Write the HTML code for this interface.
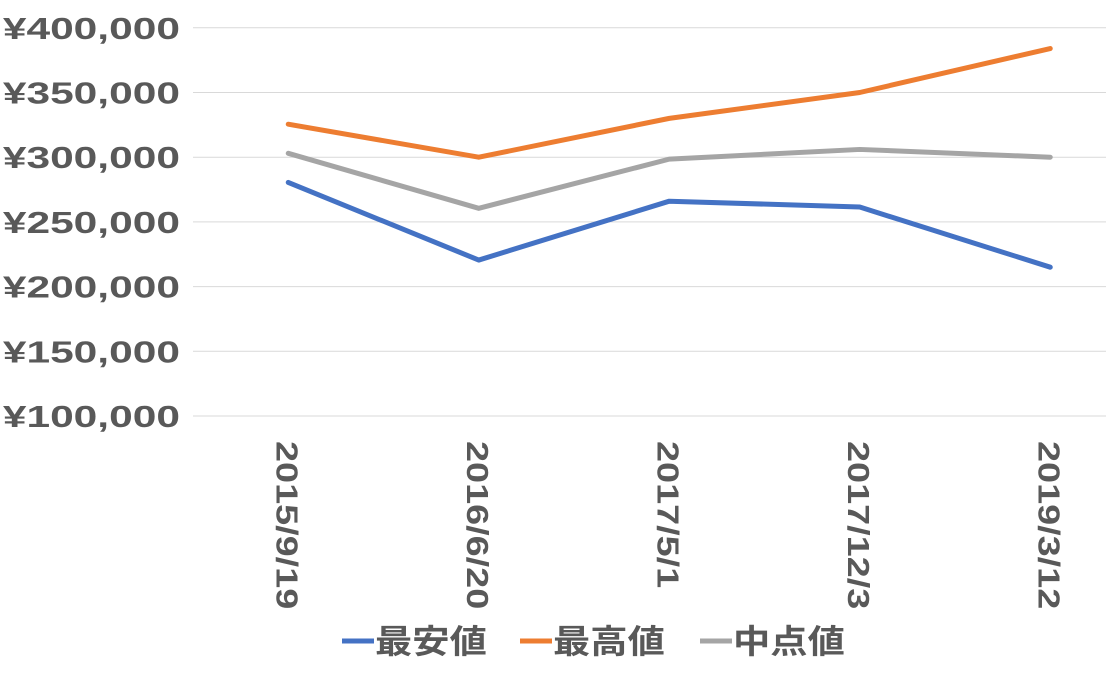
<!DOCTYPE html>
<html><head><meta charset="utf-8"><style>
body{margin:0;background:#fff;}
svg text{font-family:"Liberation Sans","Noto Sans CJK JP",sans-serif;font-weight:bold;fill:#595959;}
</style></head><body>
<svg id="chart" width="1106" height="680" xmlns="http://www.w3.org/2000/svg">
<g id="grid"></g>
<g id="yaxis"></g>
<g id="xaxis"></g>
<g id="lines"></g>
<g id="legend"></g>
</svg>
<script>
const categories=["2015/9/19","2016/6/20","2017/5/1","2017/12/3","2019/3/12"];
const seriesNames=["最安値","最高値","中点値"];
const minValues=[280500,220500,266000,261500,215000];
const maxValues=[325500,300000,330000,350000,384000];
const midValues=[303000,260500,298500,306000,300000];
const yTicks=[100000,150000,200000,250000,300000,350000,400000];
const yTickLabels=["¥100,000","¥150,000","¥200,000","¥250,000","¥300,000","¥350,000","¥400,000"];
const colors=["#4472C4","#ED7D31","#A5A5A5"];
const NS="http://www.w3.org/2000/svg";
const y0=416,pxPer=64.7/50000,x0=193,step=190.5;
const ys=v=>y0-(v-100000)*pxPer;
const xs=i=>x0+step*(i+0.5);
function mk(t,a,p){const e=document.createElementNS(NS,t);for(const k in a)e.setAttribute(k,a[k]);p.appendChild(e);return e;}
function widen(t,f){const w=t.getComputedTextLength();t.setAttribute('textLength',w*f);t.setAttribute('lengthAdjust','spacingAndGlyphs');}
const grid=document.getElementById('grid'),ya=document.getElementById('yaxis'),xa=document.getElementById('xaxis'),ln=document.getElementById('lines'),lg=document.getElementById('legend');
yTicks.forEach((v,i)=>{
 const l=mk('line',{x1:x0,x2:1106,y1:ys(v),y2:ys(v),stroke:'#D9D9D9','stroke-width':1},grid);
 
 
 const t=mk('text',{x:180,y:ys(v)+11,'text-anchor':'end','font-size':31},ya);
 t.textContent=yTickLabels[i];
 
 
 widen(t,1.37);
});
categories.forEach((c,i)=>{
 const t=mk('text',{x:0,y:0,'font-size':31,transform:`translate(${xs(i)-12},441) rotate(90)`},xa);
 t.textContent=c;
 
 
 widen(t,1.22);
});
[minValues,maxValues,midValues].forEach((arr,s)=>{
 const p=mk('polyline',{points:arr.map((v,i)=>xs(i)+','+ys(v)).join(' '),fill:'none',stroke:colors[s],'stroke-width':5,'stroke-linejoin':'round','stroke-linecap':'round'},ln);
 
 
});
const lx=[342,520,700];
seriesNames.forEach((n,s)=>{
 const g=mk('g',{},lg);
 
 
 mk('line',{x1:lx[s],x2:lx[s]+32,y1:641,y2:641,stroke:colors[s],'stroke-width':5},g);
 const t=mk('text',{x:lx[s]+33,y:653,'font-size':33},g);
 t.textContent=n;
 widen(t,1.13);
});
</script>
</body></html>
